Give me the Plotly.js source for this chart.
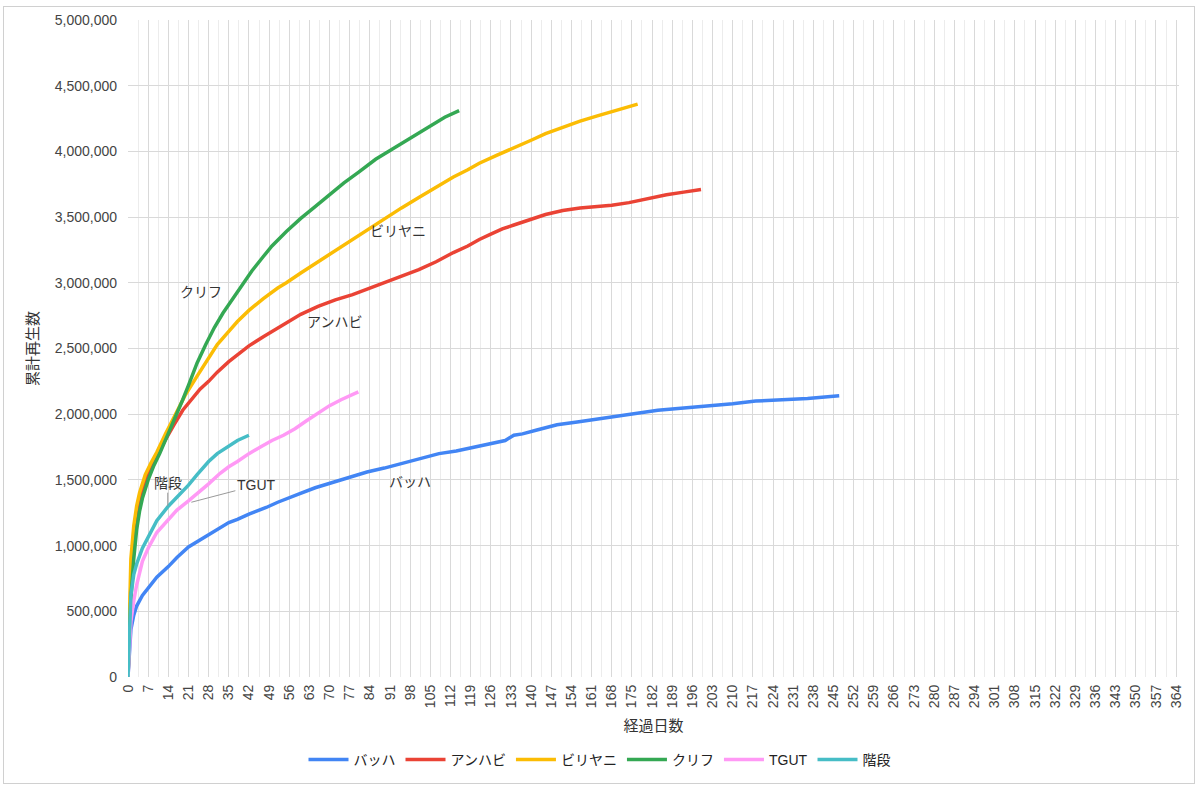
<!DOCTYPE html>
<html>
<head>
<meta charset="utf-8">
<script src="https://cdn.plot.ly/plotly-3.0.1.min.js"></script>
<style>
  body { margin: 0; background: #fff; }
  #chart { width: 1200px; height: 790px; }
  #frame { position: absolute; left: 3px; top: 6px; width: 1190px; height: 776px; border: 1px solid #d0d0d0; pointer-events: none; }
</style>
</head>
<body>
<div id="chart"></div>
<div id="frame"></div>
<script>
// days since release / cumulative plays
var bachDays  = [0, 1, 2, 3, 5, 7, 10, 14, 17, 21, 24, 28, 31, 35, 38, 42, 48, 52, 59, 65, 71, 77, 83, 89, 94, 101, 108, 114, 120, 126, 131, 134, 137, 142, 149, 156, 166, 175, 184, 192, 201, 210, 218, 227, 236, 247];
var bachViews = [0, 360000, 470000, 540000, 620000, 680000, 760000, 840000, 910000, 990000, 1030000, 1080000, 1120000, 1175000, 1200000, 1240000, 1290000, 1330000, 1390000, 1440000, 1480000, 1520000, 1560000, 1590000, 1620000, 1660000, 1700000, 1720000, 1750000, 1780000, 1800000, 1840000, 1850000, 1880000, 1920000, 1940000, 1970000, 2000000, 2030000, 2045000, 2060000, 2080000, 2100000, 2110000, 2120000, 2140000];

var anhabiDays  = [0, 1, 2, 3, 4, 5, 7, 10, 13, 16, 19, 22, 25, 28, 31, 35, 38, 42, 47, 53, 60, 66, 72, 78, 84, 90, 95, 101, 107, 113, 118, 122, 126, 130, 134, 140, 145, 151, 157, 163, 168, 174, 180, 187, 193, 199];
var anhabiViews = [0, 700000, 1000000, 1180000, 1320000, 1410000, 1550000, 1690000, 1810000, 1920000, 2030000, 2110000, 2190000, 2250000, 2320000, 2400000, 2450000, 2520000, 2590000, 2670000, 2760000, 2820000, 2870000, 2910000, 2960000, 3010000, 3050000, 3100000, 3160000, 3230000, 3280000, 3330000, 3370000, 3410000, 3440000, 3480000, 3520000, 3550000, 3570000, 3580000, 3590000, 3610000, 3640000, 3670000, 3690000, 3710000];

var biryaniDays  = [0, 1, 2, 3, 4, 6, 8, 10, 13, 16, 18, 20, 24, 28, 31, 35, 38, 42, 47, 52, 55, 60, 66, 72, 78, 84, 90, 95, 101, 107, 113, 118, 122, 128, 134, 140, 145, 151, 157, 163, 168, 173, 177];
var biryaniViews = [0, 900000, 1150000, 1300000, 1400000, 1540000, 1630000, 1710000, 1850000, 1980000, 2070000, 2150000, 2290000, 2430000, 2530000, 2630000, 2705000, 2790000, 2880000, 2960000, 3000000, 3075000, 3160000, 3250000, 3330000, 3420000, 3500000, 3570000, 3650000, 3730000, 3805000, 3860000, 3910000, 3970000, 4025000, 4085000, 4135000, 4185000, 4230000, 4270000, 4300000, 4330000, 4360000];

var cliffDays  = [0, 1, 2, 3, 4, 5, 7, 9, 11, 13, 15, 17, 19, 21, 24, 27, 30, 33, 37, 40, 43, 47, 50, 55, 60, 65, 70, 75, 80, 86, 92, 98, 104, 110, 115];
var cliffViews = [0, 600000, 900000, 1120000, 1260000, 1360000, 1500000, 1610000, 1700000, 1800000, 1900000, 2000000, 2110000, 2220000, 2390000, 2530000, 2660000, 2770000, 2900000, 3000000, 3090000, 3200000, 3280000, 3390000, 3490000, 3580000, 3670000, 3760000, 3840000, 3940000, 4020000, 4100000, 4180000, 4260000, 4310000];

var tgutDays  = [0, 1, 2, 3, 5, 7, 10, 13, 17, 21, 25, 28, 32, 35, 38, 42, 46, 50, 54, 58, 62, 66, 70, 74, 77, 80];
var tgutViews = [0, 420000, 580000, 700000, 880000, 980000, 1100000, 1170000, 1270000, 1340000, 1410000, 1470000, 1550000, 1600000, 1640000, 1700000, 1750000, 1800000, 1840000, 1890000, 1950000, 2010000, 2065000, 2110000, 2140000, 2170000];

var kaidanDays  = [0, 1, 2, 3, 5, 7, 10, 14, 17, 21, 24, 28, 31, 35, 38, 42];
var kaidanViews = [0, 620000, 780000, 860000, 980000, 1070000, 1190000, 1300000, 1370000, 1460000, 1540000, 1640000, 1700000, 1760000, 1800000, 1840000];

var seriesNames  = ['バッハ', 'アンハビ', 'ビリヤニ', 'クリフ', 'TGUT', '階段'];
var seriesDays   = [bachDays, anhabiDays, biryaniDays, cliffDays, tgutDays, kaidanDays];
var seriesViews  = [bachViews, anhabiViews, biryaniViews, cliffViews, tgutViews, kaidanViews];
var seriesColors = ['#4285f4', '#ea4335', '#fbbc04', '#34a853', '#ff99f5', '#46bdc6'];

var font = 'Liberation Sans, Arial, "Noto Sans CJK JP", sans-serif';

var traces = [];
for (var i = 0; i < seriesNames.length; i++) {
  traces.push({
    x: seriesDays[i],
    y: seriesViews[i],
    name: seriesNames[i],
    type: 'scatter',
    mode: 'lines',
    line: { color: seriesColors[i], width: 3.5 },
    hoverinfo: 'skip'
  });
}

// text labels placed next to each curve (data coords)
function label(text, x, y, extra) {
  var a = { text: text, x: x, y: y, xref: 'x', yref: 'y', showarrow: false,
            font: { family: font, size: 14, color: '#333' } };
  for (var k in extra) a[k] = extra[k];
  return a;
}

var layout = {
  width: 1200,
  height: 790,
  paper_bgcolor: '#fff',
  plot_bgcolor: '#fff',
  margin: { l: 128, r: 21, t: 20, b: 113 },
  font: { family: font, size: 14, color: '#444' },
  showlegend: true,
  legend: {
    orientation: 'h',
    xref: 'container', yref: 'container',
    x: 0.5, xanchor: 'center',
    y: 0.038, yanchor: 'middle',
    font: { family: font, size: 14, color: '#222' },
    itemwidth: 40
  },
  xaxis: {
    range: [0, 365],
    tick0: 0,
    dtick: 7,
    tickangle: -90,
    showgrid: true,
    gridcolor: '#d9d9d9',
    minor: { dtick: 3.5, showgrid: true, gridcolor: '#ececec' },
    zeroline: false,
    showline: false,
    ticklabelstandoff: 4,
    tickfont: { size: 14, color: '#444' },
    title: { text: '経過日数', font: { size: 15, color: '#333' }, standoff: 13 },
    fixedrange: true
  },
  yaxis: {
    range: [0, 5000000],
    dtick: 500000,
    tickformat: ',d',
    showgrid: true,
    gridcolor: '#d9d9d9',
    zeroline: false,
    showline: false,
    ticklabelstandoff: 10,
    tickfont: { size: 14, color: '#444' },
    title: { text: '累計再生数', font: { size: 15, color: '#333' }, standoff: 12 },
    fixedrange: true
  },
  annotations: [
    label('ビリヤニ', 93.6, 3395000),
    label('アンハビ', 71.7, 2700000),
    label('クリフ', 25.5, 2930000),
    label('バッハ', 97.8, 1487000),
    label('階段', 13.8, 1300000, { showarrow: true, arrowhead: 0, arrowwidth: 1, arrowcolor: '#999', ax: 0, ay: -23 }),
    label('TGUT', 22, 1330000, { showarrow: true, arrowhead: 0, arrowwidth: 1, arrowcolor: '#999', ax: 65, ay: -17 })
  ]
};

Plotly.newPlot('chart', traces, layout, { displayModeBar: false, staticPlot: true });
</script>
</body>
</html>
